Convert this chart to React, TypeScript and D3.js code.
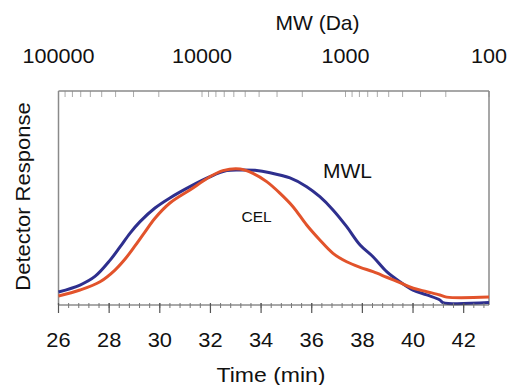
import React from "react";
import * as d3 from "d3";

// MWL series (blue)
const mwlTime = [26.0, 26.85, 27.44, 28.03, 28.43, 28.82, 29.22, 29.81, 30.4, 31.19, 31.98, 32.64, 33.17, 33.76, 34.35, 35.14, 35.8, 36.32, 36.84, 37.38, 37.91, 38.42, 38.96, 39.48, 40.0, 40.54, 41.06, 41.18, 43.0];
const mwlResponse = [0.096, 0.147, 0.21, 0.328, 0.427, 0.527, 0.613, 0.713, 0.787, 0.87, 0.943, 0.988, 0.993, 0.99, 0.973, 0.934, 0.87, 0.796, 0.699, 0.576, 0.441, 0.355, 0.245, 0.171, 0.11, 0.074, 0.037, 0.018, 0.018];

// CEL series (red)
const celTime = [26.0, 26.85, 27.64, 28.23, 28.63, 29.02, 29.41, 29.81, 30.4, 31.19, 31.98, 32.49, 33.17, 33.68, 34.22, 34.75, 35.26, 35.8, 36.32, 36.84, 37.38, 37.91, 38.42, 38.96, 39.48, 40.01, 40.54, 41.06, 41.33, 43.0];
const celResponse = [0.066, 0.11, 0.171, 0.257, 0.338, 0.434, 0.536, 0.638, 0.75, 0.846, 0.943, 0.988, 1.0, 0.968, 0.907, 0.821, 0.723, 0.588, 0.478, 0.38, 0.318, 0.277, 0.245, 0.204, 0.164, 0.123, 0.098, 0.074, 0.058, 0.058];

const timeTicks = [26, 28, 30, 32, 34, 36, 38, 40, 42];
const mwTicks = [100000, 10000, 1000, 100];
const seriesLabels = ["MWL", "CEL"];

const W = 509;
const H = 385;
const left = 58.5;
const right = 489;
const top = 91;
const bottom = 305;
const FONT = "'Liberation Sans', Arial, sans-serif";

export default function App() {
  const x = d3.scaleLinear().domain([26, 43]).range([left, right]);
  const xMW = d3.scaleLog().domain([100000, 100]).range([left, right]);
  const y = d3.scaleLinear().domain([0, 1]).range([bottom, 169]);

  const line = d3
    .line<[number, number]>()
    .x((d) => x(d[0]))
    .y((d) => y(d[1]))
    .curve(d3.curveCatmullRom.alpha(0.5));

  const mwlPath = line(mwlTime.map((t, i) => [t, mwlResponse[i]]) as [number, number][]) || "";
  const celPath = line(celTime.map((t, i) => [t, celResponse[i]]) as [number, number][]) || "";

  const minorTime: number[] = [];
  for (let t = 26; t <= 43.001; t += 0.4) minorTime.push(+t.toFixed(2));

  const mwMinor: number[] = [];
  for (let dcd = 2; dcd <= 4; dcd++) {
    for (let k = 1; k <= 9; k++) mwMinor.push(k * Math.pow(10, dcd));
  }
  mwMinor.push(100000);

  const sx = 1.12;

  return (
    <svg width={W} height={H} style={{ position: "absolute", left: 0, top: 0, background: "#fff" }}>
      <rect x={0} y={0} width={W} height={H} fill="#fff" />
      {/* top MW axis title & labels */}
      <text x={317.5} y={30} fontSize={21} fontFamily={FONT} textAnchor="middle" fill="#111">
        MW (Da)
      </text>
      {mwTicks.map((m) => (
        <text
          key={m}
          transform={`translate(${xMW(m)},63) scale(1.08,1)`}
          fontSize={20}
          fontFamily={FONT}
          textAnchor="middle"
          fill="#111"
        >
          {m}
        </text>
      ))}
      {/* top log ticks */}
      {mwMinor.map((m) => (
        <line key={"mw" + m} x1={xMW(m)} x2={xMW(m)} y1={top} y2={top + 6} stroke="#aaa" strokeWidth={1} />
      ))}
      {/* box */}
      <line x1={left} x2={right} y1={top} y2={top} stroke="#8a8a8a" strokeWidth={1.5} />
      <line x1={left} x2={left} y1={top} y2={bottom} stroke="#8a8a8a" strokeWidth={1.5} />
      <line x1={right} x2={right} y1={top} y2={bottom} stroke="#8a8a8a" strokeWidth={1.5} />
      {/* curves */}
      <path d={mwlPath} fill="none" stroke="#2e2f8e" strokeWidth={3} />
      <path d={celPath} fill="none" stroke="#e2532b" strokeWidth={3} />
      {/* bottom axis */}
      <line x1={left} x2={right} y1={bottom} y2={bottom} stroke="#555" strokeWidth={1.2} />
      {minorTime.map((t) => (
        <line key={"mt" + t} x1={x(t)} x2={x(t)} y1={bottom - 2} y2={bottom + 3} stroke="#777" strokeWidth={1} />
      ))}
      {timeTicks.map((t) => (
        <line key={"t" + t} x1={x(t)} x2={x(t)} y1={bottom - 2} y2={bottom + 8} stroke="#555" strokeWidth={1.2} />
      ))}
      {timeTicks.map((t) => (
        <text
          key={"tl" + t}
          transform={`translate(${x(t)},347) scale(${sx},1)`}
          fontSize={19.5}
          fontFamily={FONT}
          textAnchor="middle"
          fill="#111"
        >
          {t}
        </text>
      ))}
      <text
        transform={`translate(271,381.5) scale(1.18,1)`}
        fontSize={19.5}
        fontFamily={FONT}
        textAnchor="middle"
        fill="#111"
      >
        Time (min)
      </text>
      <text
        transform={`translate(30,196.5) rotate(-90) scale(1.1,1)`}
        fontSize={20}
        fontFamily={FONT}
        textAnchor="middle"
        fill="#111"
      >
        Detector Response
      </text>
      {/* series labels */}
      <text x={323} y={178} fontSize={21} fontFamily={FONT} fill="#111">
        {seriesLabels[0]}
      </text>
      <text x={241.5} y={221.7} fontSize={15.5} fontFamily={FONT} fill="#111">
        {seriesLabels[1]}
      </text>
    </svg>
  );
}
